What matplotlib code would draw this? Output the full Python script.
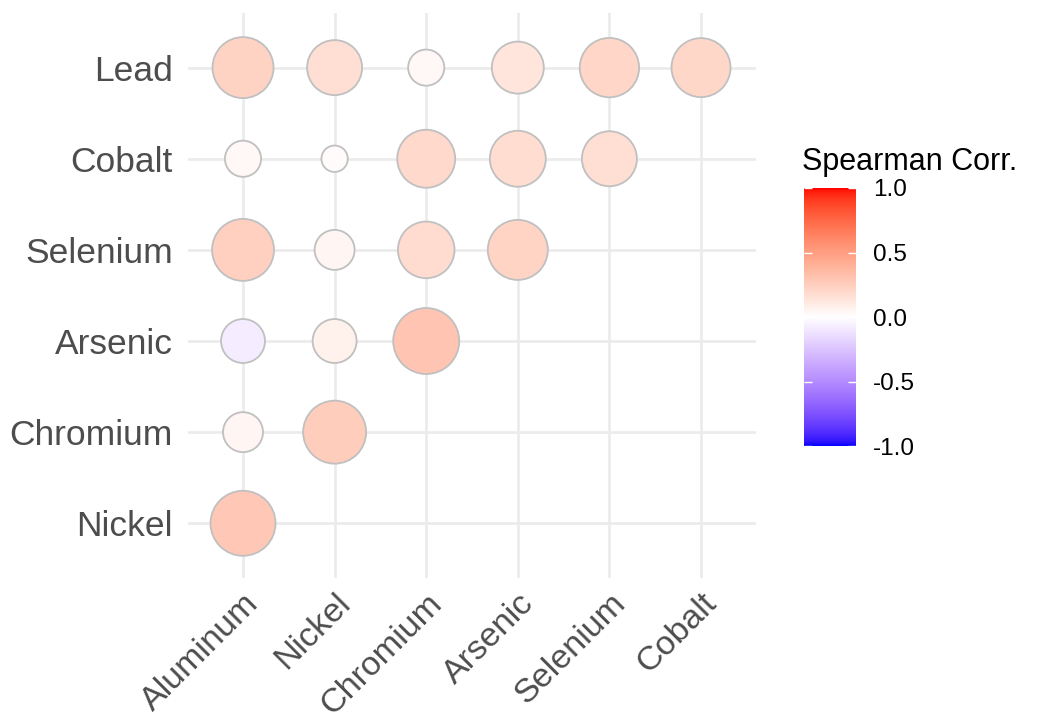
import numpy as np
import matplotlib
matplotlib.use('Agg')
import matplotlib.pyplot as plt
from matplotlib.colors import ListedColormap, Normalize
from matplotlib.colorbar import ColorbarBase

plt.rcParams['font.family'] = ['Liberation Sans', 'DejaVu Sans']

# data (lower triangle of the spearman matrix)
cols = ['Aluminum', 'Nickel', 'Chromium', 'Arsenic', 'Selenium', 'Cobalt']
rows = ['Nickel', 'Chromium', 'Arsenic', 'Selenium', 'Cobalt', 'Lead']
corr_nickel = [0.286]
corr_chromium = [0.053, 0.259]
corr_arsenic = [-0.075, 0.075, 0.30]
corr_selenium = [0.246, 0.053, 0.183, 0.222]
corr_cobalt = [0.037, 0.02, 0.198, 0.176, 0.166]
corr_lead = [0.234, 0.166, 0.037, 0.137, 0.214, 0.21]
corr_rows = [corr_nickel, corr_chromium, corr_arsenic, corr_selenium,
             corr_cobalt, corr_lead]


# colour gradient blue-white-red interpolated in Lab like ggplot2
def srgb_to_lab(c):
    c = np.asarray(c, float)
    lin = np.where(c <= 0.04045, c / 12.92, ((c + 0.055) / 1.055) ** 2.4)
    m = np.array([[0.4124, 0.3576, 0.1805],
                  [0.2126, 0.7152, 0.0722],
                  [0.0193, 0.1192, 0.9505]])
    xyz = m @ lin / np.array([0.95047, 1.0, 1.08883])
    f = np.where(xyz > 0.008856, np.cbrt(xyz), 7.787 * xyz + 16 / 116)
    return np.array([116 * f[1] - 16, 500 * (f[0] - f[1]), 200 * (f[1] - f[2])])


def lab_to_srgb(lab):
    L, a, b = lab
    fy = (L + 16) / 116
    fx = fy + a / 500
    fz = fy - b / 200
    f = np.array([fx, fy, fz])
    xyz = np.where(f ** 3 > 0.008856, f ** 3, (f - 16 / 116) / 7.787)
    xyz = xyz * np.array([0.95047, 1.0, 1.08883])
    mi = np.array([[3.2406, -1.5372, -0.4986],
                   [-0.9689, 1.8758, 0.0415],
                   [0.0557, -0.2040, 1.0570]])
    lin = mi @ xyz
    lin = np.clip(lin, 0, 1)
    c = np.where(lin <= 0.0031308, 12.92 * lin, 1.055 * lin ** (1 / 2.4) - 0.055)
    return np.clip(c, 0, 1)


lab_lo = srgb_to_lab([0, 0, 1])
lab_mid = srgb_to_lab([1, 1, 1])
lab_hi = srgb_to_lab([1, 0, 0])
cm_list = []
for t in np.linspace(-1, 1, 256):
    if t < 0:
        lab = lab_mid + (lab_lo - lab_mid) * (-t)
    else:
        lab = lab_mid + (lab_hi - lab_mid) * t
    cm_list.append(lab_to_srgb(lab))
cmap = ListedColormap(cm_list)
norm = Normalize(-1, 1)

# long format
xs, ys, vals = [], [], []
for j, r in enumerate(corr_rows):
    for i, v in enumerate(r):
        xs.append(i)
        ys.append(j)
        vals.append(v)
vals = np.array(vals)
absv = np.abs(vals)
# size like scale_size(range = c(4, 10)) -> area scale
sc = np.sqrt((absv - absv.min()) / (absv.max() - absv.min()))
diam_px = 66 * (0.4 + 0.6 * sc)
sizes = (diam_px * 0.72) ** 2

fig = plt.figure(figsize=(10.39, 7.23), dpi=100)
ax = fig.add_axes([0.181, 0.2006, 0.5466, 0.7815])
ax.set_xlim(-0.6, 5.6)
ax.set_ylim(-0.6, 5.6)
for k in range(6):
    ax.axvline(k, color='#EBEBEB', lw=1.9, zorder=0)
    ax.axhline(k, color='#EBEBEB', lw=1.9, zorder=0)
ax.scatter(xs, ys, s=sizes, c=vals, cmap=cmap, norm=norm,
           edgecolors='#C0C0C0', linewidths=1.3, zorder=3)

ax.set_xticks(range(6))
ax.set_xticklabels(cols, rotation=45, ha='right', va='top',
                   rotation_mode='anchor', fontsize=24.5, color='#4D4D4D')
ax.set_yticks(range(6))
ax.set_yticklabels(rows, fontsize=25.5, color='#4D4D4D')
ax.tick_params(length=0)
ax.tick_params(axis='y', pad=11)
ax.tick_params(axis='x', pad=7)
for s in ax.spines.values():
    s.set_visible(False)

# colourbar legend
cax = fig.add_axes([0.774, 0.383, 0.050, 0.357])
cb = ColorbarBase(cax, cmap=cmap, norm=norm, ticks=[-1, -0.5, 0, 0.5, 1])
cb.outline.set_visible(False)
cb.ax.set_yticklabels(['-1.0', '-0.5', '0.0', '0.5', '1.0'])
cax.tick_params(axis='y', direction='in', length=6, width=1, color='white',
                labelsize=17.5, labelcolor='black', pad=12, left=True, right=True)
fig.text(0.772, 0.755, 'Spearman Corr.', fontsize=22, color='black',
         ha='left', va='bottom')

fig.savefig('out.png', dpi=100, facecolor='white')
